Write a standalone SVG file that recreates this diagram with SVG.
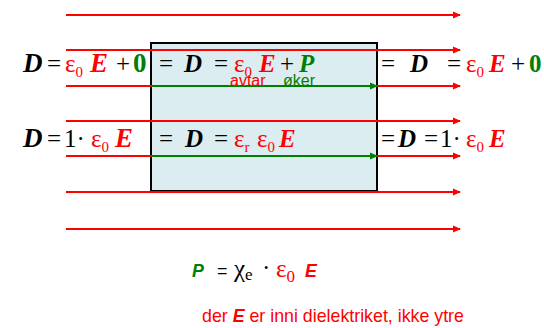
<svg xmlns="http://www.w3.org/2000/svg" width="544" height="328" viewBox="0 0 544 328">
<style>
.t{font-family:"Liberation Serif","Times New Roman",serif;font-size:25px;fill:#000}
.bi{font-weight:bold;font-style:italic}
.b{font-weight:bold}
.r{fill:#ff0000}
.g{fill:#008000}
.sub{font-size:15px}
.a{font-family:"Liberation Sans",Arial,sans-serif;font-size:16px}
.n{font-family:"Liberation Sans",Arial,sans-serif;font-size:17.8px}
.rl{stroke:#ff0000;stroke-width:2;fill:none}
.gl{stroke:#008000;stroke-width:2;fill:none}
</style>
<defs>
<marker id="ar" markerWidth="8" markerHeight="8" refX="7" refY="4" orient="auto" markerUnits="userSpaceOnUse"><path d="M0,0.5 L8,4 L0,7.5 Z" fill="#ff0000"/></marker>
<marker id="ag" markerWidth="8" markerHeight="8" refX="7" refY="4" orient="auto" markerUnits="userSpaceOnUse"><path d="M0,0.5 L8,4 L0,7.5 Z" fill="#008000"/></marker>
</defs>
<g id="dielectric">
<rect x="151" y="43" width="226" height="148" fill="#dbedf1" stroke="#000" stroke-width="2"/>
</g>
<g id="connectors">
<line class="rl" x1="66" y1="15" x2="460" y2="15" marker-end="url(#ar)"/>
<line class="rl" x1="66" y1="50" x2="460" y2="50" marker-end="url(#ar)"/>
<line class="rl" x1="66" y1="86" x2="151" y2="86"/>
<line class="gl" x1="151" y1="86" x2="377" y2="86" marker-end="url(#ag)"/>
<line class="rl" x1="377" y1="86" x2="460" y2="86" marker-end="url(#ar)"/>
<line class="rl" x1="66" y1="121" x2="460" y2="121" marker-end="url(#ar)"/>
<line class="rl" x1="66" y1="156" x2="151" y2="156"/>
<line class="gl" x1="151" y1="156" x2="377" y2="156" marker-end="url(#ag)"/>
<line class="rl" x1="377" y1="156" x2="460" y2="156" marker-end="url(#ar)"/>
<line class="rl" x1="66" y1="192" x2="460" y2="192" marker-end="url(#ar)"/>
<line class="rl" x1="66" y1="229" x2="460" y2="229" marker-end="url(#ar)"/>
</g>
<g id="left-eq1">
<text class="t" y="72"><tspan x="23" class="bi" font-size="27">D</tspan><tspan x="47">=</tspan><tspan x="65" class="r">ε</tspan><tspan class="r sub" dy="5">0</tspan><tspan x="90" dy="-5" class="bi r" font-size="27">E</tspan><tspan x="116">+</tspan><tspan x="133" class="g b" font-size="27">0</tspan></text>
</g>
<g id="left-eq2">
<text class="t" y="147"><tspan x="23" class="bi" font-size="27">D</tspan><tspan x="47">=</tspan><tspan x="64">1·</tspan><tspan x="91" class="r">ε</tspan><tspan class="r sub" dy="5">0</tspan><tspan x="115" dy="-5" class="bi r" font-size="27">E</tspan></text>
</g>
<g id="mid-eq1">
<text class="t" y="72"><tspan x="159">=</tspan><tspan x="184" class="bi">D</tspan><tspan x="214">=</tspan><tspan x="234" class="r">ε</tspan><tspan class="r sub" dy="5">0</tspan><tspan x="259" dy="-5" class="bi r">E</tspan><tspan x="280">+</tspan><tspan x="299" class="bi g">P</tspan></text>
<text class="a r" x="230" y="86">avtar</text>
<text class="a g" x="283" y="86">øker</text>
</g>
<g id="mid-eq2">
<text class="t" y="147"><tspan x="159">=</tspan><tspan x="185" class="bi">D</tspan><tspan x="214">=</tspan><tspan x="234" class="r">ε</tspan><tspan class="r sub" dy="5">r</tspan><tspan x="257" dy="-5" class="r">ε</tspan><tspan class="r sub" dy="5">0</tspan><tspan x="279" dy="-5" class="bi r">E</tspan></text>
</g>
<g id="right-eq1">
<text class="t" y="72"><tspan x="381">=</tspan><tspan x="410" class="bi">D</tspan><tspan x="447">=</tspan><tspan x="466" class="r">ε</tspan><tspan class="r sub" dy="5">0</tspan><tspan x="489" dy="-5" class="bi r">E</tspan><tspan x="511">+</tspan><tspan x="529" class="g b">0</tspan></text>
</g>
<g id="right-eq2">
<text class="t" y="147"><tspan x="381">=</tspan><tspan x="398" class="bi">D</tspan><tspan x="424">=</tspan><tspan x="440">1·</tspan><tspan x="466" class="r">ε</tspan><tspan class="r sub" dy="5">0</tspan><tspan x="489" dy="-5" class="bi r">E</tspan></text>
</g>
<g id="p-eq">
<text class="n g bi" x="192" y="277">P</text>
<text class="n" x="217" y="277">=</text>
<text class="t" x="234" y="277" font-size="26">χ<tspan font-size="17" dy="3">e</tspan></text>
<text class="t" x="262" y="276" font-size="24">·</text>
<text class="t r" x="276" y="277" font-size="25">ε<tspan font-size="17" dy="5">0</tspan></text>
<text class="n r bi" x="305" y="277">E</text>
</g>
<g id="note">
<text class="n r" x="202" y="322">der <tspan class="bi">E</tspan> er inni dielektriket, ikke ytre</text>
</g>
</svg>
